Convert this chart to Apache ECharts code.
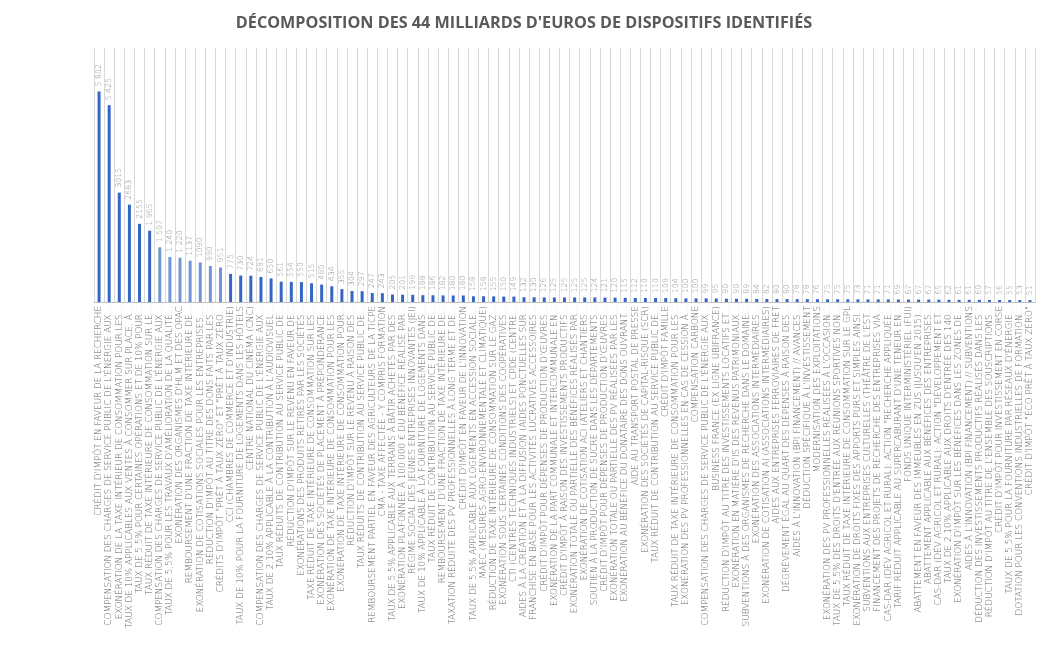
<!DOCTYPE html>
<html>
<head>
<meta charset="utf-8">
<script src="https://cdn.jsdelivr.net/npm/echarts@6/dist/echarts.min.js"></script>
<style>html,body{margin:0;padding:0;background:#fff;}#c{width:1048px;height:649px;}</style>
</head>
<body>
<div id="c"></div>
<script>
const title = "DÉCOMPOSITION DES 44 MILLIARDS D'EUROS DE DISPOSITIFS IDENTIFIÉS";

const categories = [
"CRÉDIT D'IMPÔT EN FAVEUR DE LA RECHERCHE",
"COMPENSATION DES CHARGES DE SERVICE PUBLIC DE L'ÉNERGIE AUX...",
"EXONÉRATION DE LA TAXE INTÉRIEUR DE CONSOMMATION POUR LES...",
"TAUX DE 10% APPLICABLES AUX VENTES À CONSOMMER SUR PLACE, À...",
"TAUX DE 5,5% POUR CERTAINES OPÉRATIONS ET DE 10% POUR...",
"TAUX RÉDUIT DE TAXE INTÉRIEURE DE CONSOMMATION SUR LE...",
"COMPENSATION DES CHARGES DE SERVICE PUBLIC DE L'ÉNERGIE AUX...",
"TAUX DE 5,5% POUR LES TRAVAUX D'AMÉLIORATION DE LA QUALITÉ...",
"EXONÉRATION DES ORGANISMES D'HLM ET DES OPAC",
"REMBOURSEMENT D'UNE FRACTION DE TAXE INTÉRIEURE DE...",
"EXONÉRATION DE COTISATIONS SOCIALES POUR LES ENTREPRISES,...",
"RÉDUCTION D'IMPÔT AU TITRE DES DONS FAITS PAR LES...",
"CRÉDITS D'IMPÔT \"PRÊT À TAUX ZÉRO\" ET \"PRÊT À TAUX ZÉRO...",
"CCI (CHAMBRES DE COMMERCE ET D'INDUSTRIE)",
"TAUX DE 10% POUR LA FOURNITURE DE LOGEMENTS DANS LES HÔTELS",
"CENTRE NATIONAL DU CINÉMA (CNC)",
"COMPENSATION DES CHARGES DE SERVICE PUBLIC DE L'ÉNERGIE AUX...",
"TAUX DE 2,10% APPLICABLE À LA CONTRIBUTION À L'AUDIOVISUEL...",
"TAUX RÉDUITS DE CONTRIBUTION AU SERVICE PUBLIC DE...",
"RÉDUCTION D'IMPÔT SUR LE REVENU EN FAVEUR DE...",
"EXONÉRATIONS DES PRODUITS RETIRÉS PAR LES SOCIÉTÉS...",
"TAXE RÉDUIT DE TAXE INTÉRIEURE DE CONSOMMATION SUR LES...",
"EXONÉRATION DES SOCIÉTÉS DE PLACEMENT À PRÉPONDÉRANCE...",
"EXONÉRATION DE TAXE INTÉRIEURE DE CONSOMMATION POUR LES...",
"EXONÉRATION DE TAXE INTÉRIEURE DE CONSOMMATION POUR...",
"RÉDUCTION D'IMPÔT SUR LE REVENU À RAISON DES...",
"TAUX RÉDUITS DE CONTRIBUTION AU SERVICE PUBLIC DE...",
"REMBOURSEMENT PARTIEL EN FAVEUR DES AGRICULTEURS DE LA TICPE",
"CMA - TAXE AFFECTÉE - Y COMPRIS FORMATION",
"TAUX DE 5,5% APPLICABLE AUX TERRAINS À BÂTIR ACHETÉS PAR DES...",
"EXONÉRATION PLAFONNÉE À 100.000 € DU BÉNÉFICE RÉALISÉ PAR...",
"RÉGIME SOCIAL DES JEUNES ENTREPRISES INNOVANTES (JEI)",
"TAUX DE 10% APPLICABLE À LA FOURNITURE DE LOGEMENTS DANS...",
"TAUX RÉDUIT DE CONTRIBUTION AU SERVICE PUBLIC DE...",
"REMBOURSEMENT D'UNE FRACTION DE TAXE INTÉRIEURE DE...",
"TAXATION RÉDUITE DES PV PROFESSIONNELLES À LONG TERME ET DE...",
"CRÉDIT D'IMPÔT EN FAVEUR DE L'INNOVATION",
"TAUX DE 5,5% APPLICABLE AUX LOGEMENTS EN ACCESSION SOCIALE...",
"MAEC (MESURES AGRO-ENVIRONNEMENTALE ET CLIMATIQUE)",
"RÉDUCTION DE TAXE INTÉRIEURE DE CONSOMMATION SUR LE GAZ...",
"EXONÉRATION SOUS CERTAINES CONDITIONS DES COOPÉRATIVES...",
"CTI (CENTRES TECHNIQUES INDUSTRIELS) ET CPDE (CENTRE...",
"AIDES À LA CRÉATION ET À LA DIFFUSION (AIDES PONCTUELLES SUR...",
"FRANCHISE EN BASE POUR LES ACTIVITÉS LUCRATIVES ACCESSOIRES...",
"CRÉDIT D'IMPÔT POUR DÉPENSES DE PRODUCTION D'ŒUVRES...",
"EXONÉRATION DE LA PART COMMUNALE ET INTERCOMMUNALE EN...",
"CRÉDIT D'IMPÔT À RAISON DES INVESTISSEMENTS PRODUCTIFS...",
"EXONÉRATION TOTALE OU PARTIELLE DES BÉNÉFICES RÉALISÉS PAR...",
"EXONÉRATION DE COTISATION ACI (ATELIERS ET CHANTIERS...",
"SOUTIEN À LA PRODUCTION DE SUCRE DANS LES DÉPARTEMENTS...",
"CRÉDIT D'IMPÔT POUR DÉPENSES DE PRODUCTION D'ŒUVRES...",
"EXONÉRATION TOTALE OU PARTIELLE DES PV RÉALISÉES PAR LES...",
"EXONÉRATION AU BÉNÉFICE DU DONATAIRE DES DONS OUVRANT...",
"AIDE AU TRANSPORT POSTAL DE PRESSE",
"EXONÉRATION DES SOCIÉTÉS DE CAPITAL-RISQUE (SCR)",
"TAUX RÉDUIT DE CONTRIBUTION AU SERVICE PUBLIC DE...",
"CRÉDIT D'IMPÔT FAMILLE",
"TAUX RÉDUIT DE TAXE INTÉRIEURE DE CONSOMMATION POUR LES...",
"EXONÉRATION DES PV PROFESSIONNELLES EN CAS DE CESSION À...",
"COMPENSATION CARBONE",
"COMPENSATION DES CHARGES DE SERVICE PUBLIC DE L'ÉNERGIE AUX...",
"BUSINESS FRANCE (EX LIGNE UBIFRANCE)",
"RÉDUCTION D'IMPÔT AU TITRE DES INVESTISSEMENTS LOCATIFS ET...",
"EXONÉRATION EN MATIÈRE D'IS DES REVENUS PATRIMONIAUX...",
"SUBVENTIONS À DES ORGANISMES DE RECHERCHE DANS LE DOMAINE...",
"EXONÉRATION DES ASSOCIATIONS INTERMÉDIAIRES...",
"EXONÉRATION DE COTISATION AI (ASSOCIATIONS INTERMÉDIAIRES)",
"AIDES AUX ENTREPRISES FERROVIAIRES DE FRET",
"DÉGRÈVEMENT ÉGAL AU QUART DES DÉPENSES À RAISON DES...",
"AIDES À L'INNOVATION (BPI FINANCEMENT) // AVANCES...",
"DÉDUCTION SPÉCIFIQUE À L'INVESTISSEMENT",
"MODERNISATION DES EXPLOITATIONS",
"EXONÉRATION DES PV PROFESSIONNELLES RÉALISÉES À L'OCCASION...",
"TAUX DE 5,5% DES DROITS D'ENTRÉE AUX RÉUNIONS SPORTIVES NON...",
"TAUX RÉDUIT DE TAXE INTÉRIEURE DE CONSOMMATION SUR LE GPL",
"EXONÉRATION DE DROITS FIXES DES APPORTS PURS ET SIMPLES AINSI...",
"SUBVENTIONS AUX ENTREPRISES CULTURELLES (THÉÂTRE DE L'EST...",
"FINANCEMENT DES PROJETS DE RECHERCHE DES ENTREPRISES VIA...",
"CAS-DAR (DÉV AGRICOL ET RURAL): ACTION \"RECHERCHE APPLIQUÉE...",
"TARIF RÉDUIT APPLICABLE AU SUPERCABURANT D'UNE TENEUR EN...",
"FONDS UNIQUE INTERMINISTÉRIEL (FUI)",
"ABATTEMENT EN FAVEUR DES IMMEUBLES EN ZUS (JUSQU'EN 2015)...",
"ABATTEMENT APPLICABLE AUX BÉNÉFICES DES ENTREPRISES...",
"CAS-DAR (DÉV AGRICOL ET RURAL): ACTION \"DÉVELOPPEMENT ET...",
"TAUX DE 2,10% APPLICABLE AUX DROITS D'ENTRÉE DES 140...",
"EXONÉRATION D'IMPÔT SUR LES BÉNÉFICES DANS LES ZONES DE...",
"AIDES À L'INNOVATION (BPI FINANCEMENT) // SUBVENTIONS",
"DÉDUCTION DES INVESTISSEMENTS PRODUCTIFS RÉALISÉS DANS LES...",
"RÉDUCTION D'IMPÔT AU TITRE DE L'ENSEMBLE DES SOUSCRIPTIONS...",
"CRÉDIT D'IMPÔT POUR INVESTISSEMENT EN CORSE",
"TAUX DE 5,5% POUR LA FOURNITURE PAR RÉSEAUX D'ÉNERGIE...",
"DOTATION POUR LES CONVENTIONS INDUSTRIELLES DE FORMATION...",
"CRÉDIT D'IMPÔT \"ÉCO PRÊT À TAUX ZÉRO\""
];

const values = [5802,5425,3015,2683,2155,1965,1507,1240,1220,1137,1090,990,951,775,730,724,691,650,561,554,550,515,480,434,355,304,297,247,243,205,201,199,188,186,182,180,180,158,158,155,150,149,132,130,126,125,125,125,125,124,121,120,115,112,110,110,109,104,100,100,99,95,90,90,89,84,82,80,80,78,78,76,75,75,75,73,71,71,71,69,67,67,67,65,62,61,61,60,57,56,55,53,51];

// values printed without a thousands separator in the original
const noSeparator = [3015,2683,2155,1137,1090];

const chart = echarts.init(document.getElementById('c'), null, {renderer:'canvas'});
chart.setOption({
  animation:false,
  backgroundColor:'#ffffff',
  title:{
    text:title, left:'center', top:10,
    textStyle:{fontFamily:'Open Sans', fontWeight:'bold', fontSize:16.2, color:'#595959'}
  },
  grid:{left:94, right:13, top:48, bottom:347, containLabel:false},
  xAxis:{
    type:'category', data:categories,
    axisLine:{show:true, lineStyle:{color:'#bfbfbf', width:1}},
    axisTick:{show:false},
    splitLine:{show:true, lineStyle:{color:'#d9d9d9', width:1}},
    axisLabel:{
      interval:0, rotate:90, margin:4,
      fontFamily:'DejaVu Sans', fontWeight:200, fontSize:8.8, color:'#666666'
    }
  },
  yAxis:{
    type:'value', min:0, max:7000,
    show:false, splitLine:{show:false}
  },
  series:[{
    type:'bar', data:values, barWidth:3,
    itemStyle:{
      color:function(p){ return (p.dataIndex>=6 && p.dataIndex<=12) ? '#6f95da' : '#3565c5'; }
    },
    label:{
      show:true, position:'top', rotate:90, distance:5,
      align:'left', verticalAlign:'middle',
      fontFamily:'DejaVu Sans', fontWeight:200, fontSize:7.8, color:'#8c8c8c',
      formatter:function(p){
        const v = p.value;
        if (v >= 1000 && noSeparator.indexOf(v) < 0) {
          const s = String(v);
          return s.slice(0, s.length-3) + ' ' + s.slice(s.length-3);
        }
        return String(v);
      }
    }
  }]
});
</script>
</body>
</html>
